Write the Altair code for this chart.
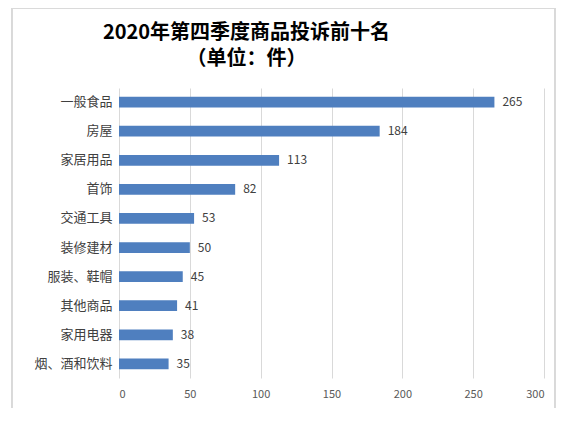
import pandas as pd
import altair as alt

# 商品类别与投诉件数
categories = ["一般食品", "房屋", "家居用品", "首饰", "交通工具",
              "装修建材", "服装、鞋帽", "其他商品", "家用电器", "烟、酒和饮料"]
counts = [265, 184, 113, 82, 53, 50, 45, 41, 38, 35]
title_lines = ["2020年第四季度商品投诉前十名", "（单位：件）"]

source = pd.DataFrame({"category": categories, "count": counts})

FONT = "Noto Sans CJK SC"

base = alt.Chart(source).encode(
    y=alt.Y("category:N", sort=categories, title=None,
            scale=alt.Scale(paddingInner=0.63, paddingOuter=0.3),
            axis=alt.Axis(domain=False, ticks=False, labelPadding=7,
                          labelFontSize=13, labelColor="#404040", labelFont=FONT)),
)

bars = base.mark_bar(color="#4F7FBF").encode(
    x=alt.X("count:Q", title=None,
            scale=alt.Scale(domain=[0, 300], nice=False),
            axis=alt.Axis(values=[0, 50, 100, 150, 200, 250, 300], domain=False,
                          ticks=False, labelPadding=10, labelFontSize=11,
                          labelColor="#595959", labelFont=FONT,
                          gridColor="#d9d9d9")),
)

labels = base.mark_text(align="left", baseline="middle", dx=8, fontSize=12,
                        color="#404040", font=FONT).encode(
    x="count:Q",
    text="count:Q",
)

# 外框
frame = alt.Chart(source).mark_rect(fill=None, stroke="#d9d9d9", strokeWidth=1).encode(
    x=alt.value(-107), x2=alt.value(436), y=alt.value(-80), y2=alt.value(323)
)

chart = (frame + bars + labels).properties(
    width=425,
    height=290,
    autosize=alt.AutoSizeParams(type="none"),
    padding={"left": 111, "top": 80, "right": 20, "bottom": 30},
    title=alt.Title(title_lines, anchor="middle", dx=-85, fontSize=20,
                    font=FONT, fontWeight="bold", color="#000000",
                    lineHeight=26, offset=-61),
).configure_view(stroke=None)

chart.save("out.html", embed_options={"renderer": "svg", "actions": False})
